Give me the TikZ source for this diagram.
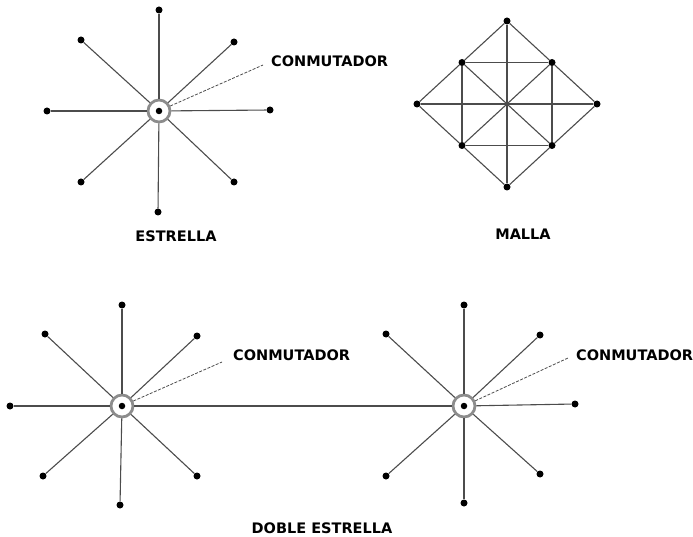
\documentclass[tikz,border=0pt]{standalone}
\usepackage{fontspec}
\setmainfont{DejaVu Sans}
\usetikzlibrary{positioning}

\begin{document}
\begin{tikzpicture}[
    x=1pt, y=-1pt,
    font=\bfseries\fontsize{14.5}{17}\selectfont,
    wire/.style={draw=black!70, line width=1.1pt},
    tag/.style={draw=black!70, line width=0.8pt, dash pattern=on 3pt off 1.5pt},
    term/.style={circle, fill=black, inner sep=0pt, minimum size=7pt},
    hub/.style={circle, draw=black!45, line width=2.8pt, fill=white,
                inner sep=0pt, minimum size=22pt},
    core/.style={circle, fill=black, inner sep=0pt, minimum size=6.5pt},
    lbl/.style={inner sep=0pt},
  ]
  \useasboundingbox (0,0) rectangle (693,537);

  % --- Estrella -----------------------------------------------------------
  \node[hub] (s1) at (159,111) {};
  \foreach \n/\x/\y in {n/159/10, ne/234/42, e/270/110, se/234/182,
                        s/158/212, sw/81/182, w/47/111, nw/81/40}
    \node[term] (s1\n) at (\x,\y) {};
  \foreach \n in {n, ne, e, se, s, sw, w, nw}
    \draw[wire] (s1) -- (s1\n);
  \node[core] at (s1) {};

  \node[lbl, anchor=west] (c1) at (271,61) {CONMUTADOR};
  \coordinate (c1tip) at (263,65);
  \draw[tag] (s1) -- (c1tip);

  \node[lbl] (estrella) at (176,236) {ESTRELLA};

  % --- Malla --------------------------------------------------------------
  \foreach \n/\x/\y in {t/507/21, ul/462/62.5, ur/552/62.5, l/417/104,
                        r/597/104, ll/462/145.5, lr/552/145.5, b/507/187}
    \node[term] (m\n) at (\x,\y) {};
  \foreach \a/\b in {t/ul, ul/l, l/ll, ll/b, b/lr, lr/r, r/ur, ur/t,
                     ul/ur, ur/lr, lr/ll, ll/ul, ul/lr, ur/ll, t/b, l/r}
    \draw[wire] (m\a) -- (m\b);

  \node[lbl] (malla) at (523,234) {MALLA};

  % --- Doble estrella -----------------------------------------------------
  \node[hub] (s2) at (122,406) {};
  \node[hub] (s3) at (464,406) {};
  \foreach \n/\x/\y in {n/122/305, ne/197/336, w/10/406, se/197/476,
                        s/120/505, sw/43/476, nw/45/334}
    \node[term] (s2\n) at (\x,\y) {};
  \foreach \n/\x/\y in {n/464/305, ne/540/335, e/575/404, se/540/474,
                        s/464/503, sw/386/476, nw/386/334}
    \node[term] (s3\n) at (\x,\y) {};
  \foreach \n in {n, ne, w, se, s, sw, nw}
    \draw[wire] (s2) -- (s2\n);
  \foreach \n in {n, ne, e, se, s, sw, nw}
    \draw[wire] (s3) -- (s3\n);
  \draw[wire] (s2) -- (s3);
  \node[core] at (s2) {};
  \node[core] at (s3) {};

  \node[lbl, anchor=west] (c2) at (233,355) {CONMUTADOR};
  \coordinate (c2tip) at (222,362);
  \draw[tag] (s2) -- (c2tip);
  \node[lbl, anchor=west] (c3) at (576,355) {CONMUTADOR};
  \coordinate (c3tip) at (568,358);
  \draw[tag] (s3) -- (c3tip);

  \node[lbl] (doble) at (322,528) {DOBLE ESTRELLA};

\end{tikzpicture}
\end{document}
